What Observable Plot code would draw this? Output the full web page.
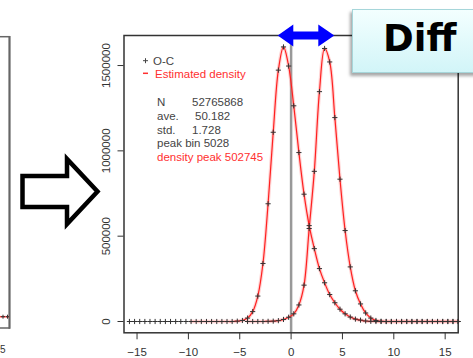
<!DOCTYPE html>
<html><head><meta charset="utf-8">
<script src="https://cdn.jsdelivr.net/npm/d3@7"></script>
<script src="https://cdn.jsdelivr.net/npm/@observablehq/plot@0.6"></script>
<style>
body{margin:0;background:#fff;}
#wrap{position:relative;width:473px;height:358px;overflow:hidden;}
#wrap svg{position:absolute;left:0;top:0;}
#diff{position:absolute;left:352px;top:9px;width:130px;height:64px;box-sizing:border-box;border:1px solid #a6d6da;
 background:linear-gradient(#f3ffff,#d2f5f8);box-shadow:-2px 3px 3px rgba(0,0,0,0.35);}
#diff span{position:absolute;left:30px;top:10px;font:bold 37px "DejaVu Sans";line-height:37px;color:#000;}
</style></head>
<body>
<div id="wrap"></div>
<script>
// O-C histogram bins (centres)
const binsA = [-15.74,-15.24,-14.74,-14.24,-13.74,-13.24,-12.74,-12.24,-11.74,-11.24,-10.74,-10.24,-9.74,-9.24,-8.74,-8.24,-7.74,-7.24,-6.74,-6.24,-5.74,-5.24,-4.74,-4.24,-3.74,-3.24,-2.74,-2.24,-1.74,-1.24,-0.74,-0.24,0.26,0.76,1.26,1.76,2.26,2.76,3.26,3.76,4.26,4.76,5.26,5.76,6.26,6.76,7.26,7.76,8.26,8.76,9.26,9.76,10.26,10.76,11.26,11.76,12.26,12.76,13.26,13.76,14.26,14.76,15.26,15.76,16.26];
const countsA = [0,0,0,0,0,0,0,0,0,0,0,0,0,0,0,0,0,0,0,0,0,2000,6000,20000,58000,149000,340000,690000,1109000,1473000,1609000,1497000,1264000,990000,746000,562000,427000,310000,227000,158000,110000,72000,45000,26000,14000,8000,3000,1000,0,0,0,0,0,0,0,0,0,0,0,0,0,0,0,0,0];
const densStartA = -9.74;
const binsB = [-4.24,-3.74,-3.24,-2.74,-2.24,-1.74,-1.24,-0.74,-0.24,0.26,0.76,1.26,1.76,2.26,2.76,3.26,3.76,4.26,4.76,5.26,5.76,6.26,6.76,7.26,7.76,8.26,8.76,9.26,9.76,10.26,10.76,11.26,11.76,12.26,12.76,13.26,13.76,14.26,14.76,15.26,15.76,16.26];
const countsB = [0,0,0,0,1000,2000,5000,12000,25000,45000,97000,213000,545000,880000,1347000,1600000,1521000,1195000,834000,533000,320000,180000,103000,50000,20000,6000,1000,0,0,0,0,0,0,0,0,0,0,0,0,0,0,0];
const xTicks = [-15,-10,-5,0,5,10,15];
const yTicks = [0,500000,1000000,1500000];
const legendLabels = ["O-C","Estimated density"];
const statNames = ["N","ave.","std."];
const statValues = ["52765868","50.182","1.728"];
const peakBinText = "peak bin 5028";
const densityPeakText = "density peak 502745";

const A = binsA.map((x,i)=>({x, y: countsA[i]}));
const B = binsB.map((x,i)=>({x, y: countsB[i]}));
const dA = A.filter(d => d.x >= densStartA);

const chart = Plot.plot({
  width: 473, height: 358,
  marginLeft: 123.5, marginRight: 15.3, marginTop: 35, marginBottom: 25.7,
  x: {domain: [-16.27, 16.27], label: null},
  y: {domain: [-66200, 1676000], label: null},
  style: {fontFamily: "'Liberation Sans', Arial, sans-serif", fontSize: "11.5px", color: "#333", background: "transparent"},
  marks: [
    Plot.ruleX([0], {stroke: "#999", strokeWidth: 2.5}),
    Plot.line(dA, {x: "x", y: "y", stroke: "#ff7070", strokeWidth: 3.5, strokeOpacity: 0.3, curve: "catmull-rom"}),
    Plot.line(B, {x: "x", y: "y", stroke: "#ff7070", strokeWidth: 3.5, strokeOpacity: 0.3, curve: "catmull-rom"}),
    Plot.line(dA, {x: "x", y: "y", stroke: "#ff2020", strokeWidth: 1.2, curve: "catmull-rom"}),
    Plot.line(B, {x: "x", y: "y", stroke: "#ff2020", strokeWidth: 1.2, curve: "catmull-rom"}),
    Plot.dot(A, {x: "x", y: "y", symbol: "plus", r: 1.8, stroke: "#333", strokeWidth: 1}),
    Plot.dot(B, {x: "x", y: "y", symbol: "plus", r: 1.8, stroke: "#333", strokeWidth: 1}),
    Plot.frame({stroke: "#333", strokeWidth: 1.5}),
    Plot.axisX({ticks: xTicks, tickSize: 7, tickPadding: 8, stroke: "#333", label: null}),
    Plot.axisY({ticks: yTicks, tickSize: 6, tickPadding: 8, tickRotate: -90, tickFormat: d => String(d), stroke: "#333", label: null})
  ]
});
const wrap = document.getElementById("wrap");
wrap.appendChild(chart);

const ns = "http://www.w3.org/2000/svg";
const ov = document.createElementNS(ns, "svg");
ov.setAttribute("width", 473); ov.setAttribute("height", 358);
ov.setAttribute("font-family", "'Liberation Sans', Arial, sans-serif");
let html = "";
// remnant of previous panel
html += `<line x1="0" y1="36.7" x2="10" y2="36.7" stroke="#666" stroke-width="1.5"/>`;
html += `<line x1="0" y1="328" x2="10" y2="328" stroke="#666" stroke-width="1.5"/>`;
html += `<line x1="9.5" y1="36" x2="9.5" y2="328.7" stroke="#666" stroke-width="2.2"/>`;
html += `<line x1="0" y1="316.7" x2="9" y2="316.7" stroke="#ff4040" stroke-width="1.5"/>`;
html += `<path d="M1,316.7h4M3,314.7v4M6,316.7h3M7.5,314.7v4" stroke="#333" stroke-width="1"/>`;
html += `<text x="0" y="353" font-size="10" fill="#333">5</text>`;
// big outline arrow
html += `<polygon points="22.5,176 67,176 67,159 97.5,191.5 67,224 67,207 22.5,207" fill="#fff" stroke="#000" stroke-width="4.5" stroke-linejoin="miter"/>`;
// blue double arrow
html += `<polygon points="277.7,35.5 293.3,24.5 293.3,31.5 318.3,31.5 318.3,24.5 334.3,35.5 318.3,46.5 318.3,39.5 293.3,39.5 293.3,46.5" fill="#0000ff"/>`;
// legend
html += `<path d="M143,60.7h5M145.5,58.2v5" stroke="#444" stroke-width="1"/>`;
html += `<line x1="143" y1="73.3" x2="148" y2="73.3" stroke="#ff3030" stroke-width="1.5"/>`;
html += `<text x="153" y="64.8" font-size="11.5" fill="#444">${legendLabels[0]}</text>`;
html += `<text x="155" y="77.5" font-size="11.5" fill="#ff3030">${legendLabels[1]}</text>`;
const statY = [105.7, 119.7, 133.8];
const valX = [192, 195, 192];
statNames.forEach((s,i) => {
  html += `<text x="157" y="${statY[i]}" font-size="11.5" fill="#444">${s}</text>`;
  html += `<text x="${valX[i]}" y="${statY[i]}" font-size="11.5" fill="#444">${statValues[i]}</text>`;
});
html += `<text x="157" y="147.3" font-size="11.5" fill="#444">${peakBinText}</text>`;
html += `<text x="157" y="161" font-size="11.5" fill="#ff3030">${densityPeakText}</text>`;
ov.innerHTML = html;
wrap.appendChild(ov);

const box = document.createElement("div");
box.id = "diff";
box.innerHTML = "<span>Diff</span>";
wrap.appendChild(box);
</script>
</body></html>
